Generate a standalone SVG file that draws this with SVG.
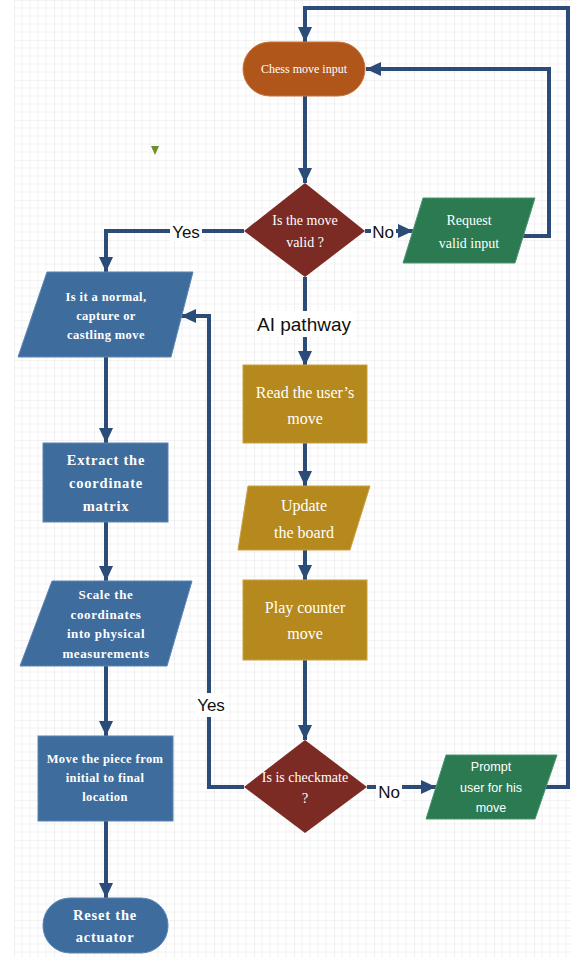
<svg xmlns="http://www.w3.org/2000/svg" width="571" height="957" viewBox="0 0 571 957">
<defs>
<pattern id="grid" width="40" height="40" patternUnits="userSpaceOnUse" x="14" y="0">
<path d="M8 0V40M16 0V40M24 0V40M32 0V40M0 8H40M0 16H40M0 24H40M0 32H40" stroke="#f1f1f1" stroke-width="1" fill="none"/>
<path d="M0 0V40M0 0H40" stroke="#e6e6e6" stroke-width="1.2" fill="none"/>
</pattern>
<marker id="arr" markerUnits="userSpaceOnUse" markerWidth="16" markerHeight="14" refX="15" refY="7" orient="auto">
<path d="M0,0 L15,7 L0,14 z" fill="#2b4c78"/>
</marker>
<style>
.c{fill:none;stroke:#2b4c78;stroke-width:4;stroke-linejoin:miter}
.ca{fill:none;stroke:#2b4c78;stroke-width:4;marker-end:url(#arr)}
.ser{font-family:"Liberation Serif","Times New Roman",serif;fill:#ffffff;text-anchor:middle;dominant-baseline:central}
.serb{font-family:"Liberation Serif","Times New Roman",serif;fill:#ffffff;text-anchor:middle;dominant-baseline:central;font-weight:bold}
.sans{font-family:"Liberation Sans",Arial,sans-serif;text-anchor:middle;dominant-baseline:central}
.lbl{font-family:"Liberation Sans",Arial,sans-serif;text-anchor:middle;dominant-baseline:central;fill:#111111}
.blue{fill:#3e6c9c;stroke:#5a86b3;stroke-width:1}
.gold{fill:#b5891e;stroke:#c9a040;stroke-width:1}
.green{fill:#2b7a51;stroke:#4a9570;stroke-width:1}
.red{fill:#7b2b23}
</style>
</defs>
<rect x="0" y="0" width="571" height="957" fill="#ffffff"/>
<rect x="14" y="0" width="557" height="957" fill="url(#grid)"/>
<path d="M151,146 L159,146 L155,155 z" fill="#6f8f2a"/>

<g id="connectors">
<polyline class="ca" points="544,787 568,787 568,8 305,8 305,42"/>
<polyline class="ca" points="523,236 549,236 549,69 366,69"/>
<line class="ca" x1="305" y1="96" x2="305" y2="183"/>
<polyline class="ca" points="244,231 106,231 106,272"/>
<line class="ca" x1="365" y1="231" x2="413" y2="231"/>
<line class="ca" x1="305" y1="277" x2="305" y2="366"/>
<line class="ca" x1="305" y1="443" x2="305" y2="486"/>
<line class="ca" x1="305" y1="550" x2="305" y2="580"/>
<line class="ca" x1="305" y1="660" x2="305" y2="740"/>
<polyline class="ca" points="244,787 209,787 209,316 181,316"/>
<line class="ca" x1="367" y1="787" x2="436" y2="787"/>
<line class="ca" x1="106" y1="357" x2="106" y2="443"/>
<line class="ca" x1="106" y1="522" x2="106" y2="581"/>
<line class="ca" x1="106" y1="666" x2="106" y2="736"/>
<line class="ca" x1="106" y1="821" x2="106" y2="898"/>
<rect x="170" y="221" width="32" height="20" fill="#ffffff"/>
<text class="lbl" x="186" y="232" font-size="17">Yes</text>
<rect x="371" y="221" width="25" height="20" fill="#ffffff"/>
<text class="lbl" x="383" y="232" font-size="17">No</text>
<rect x="255" y="311" width="100" height="26" fill="#ffffff"/>
<text class="lbl" x="304" y="324" font-size="19">AI pathway</text>
<rect x="195" y="693" width="31" height="24" fill="#ffffff"/>
<text class="lbl" x="211" y="705" font-size="17">Yes</text>
<rect x="376" y="780" width="26" height="24" fill="#ffffff"/>
<text class="lbl" x="389" y="792" font-size="17">No</text>
</g>

<g id="chess-move-input">
<rect x="243" y="42" width="122" height="54" rx="27" ry="27" fill="#b0561b" stroke="#c8733a" stroke-width="1"/>
<text class="ser" x="304" y="69" font-size="12">Chess move input</text>
</g>

<g id="is-move-valid">
<polygon class="red" points="305,183 365,231 305,277 244,231"/>
<text class="ser" x="305" y="220" font-size="14">Is the move</text>
<text class="ser" x="305" y="242" font-size="14">valid ?</text>
</g>

<g id="request-valid-input">
<polygon class="green" points="423,198 535,198 515,263 403,263"/>
<text class="ser" x="469" y="220" font-size="14">Request</text>
<text class="ser" x="469" y="243" font-size="14">valid input</text>
</g>

<g id="move-type">
<polygon class="blue" points="47,272 193,272 171,357 18,357"/>
<text class="serb" x="106" y="297" font-size="12.5" letter-spacing="0.4">Is it a normal,</text>
<text class="serb" x="106" y="316" font-size="12.5" letter-spacing="0.4">capture or</text>
<text class="serb" x="106" y="335" font-size="12.5" letter-spacing="0.4">castling move</text>
</g>

<g id="read-user-move">
<rect class="gold" x="243" y="365" width="124" height="78"/>
<text class="ser" x="305" y="392" font-size="16">Read the user’s</text>
<text class="ser" x="305" y="418" font-size="16">move</text>
</g>

<g id="update-board">
<polygon class="gold" points="248,486 370,486 350,550 238,550"/>
<text class="ser" x="304" y="505" font-size="16">Update</text>
<text class="ser" x="304" y="532" font-size="16">the board</text>
</g>

<g id="play-counter-move">
<rect class="gold" x="243" y="580" width="124" height="80"/>
<text class="ser" x="305" y="607" font-size="16">Play counter</text>
<text class="ser" x="305" y="633" font-size="16">move</text>
</g>

<g id="is-checkmate">
<polygon class="red" points="305,740 367,787 305,833 244,787"/>
<text class="ser" x="305" y="777" font-size="14">Is is checkmate</text>
<text class="ser" x="305" y="798" font-size="14">?</text>
</g>

<g id="prompt-user">
<polygon class="green" points="446,755 557,755 535,819 426,819"/>
<text class="sans" x="491" y="767" font-size="12.5" fill="#ffffff">Prompt</text>
<text class="sans" x="491" y="788" font-size="12.5" fill="#ffffff">user for his</text>
<text class="sans" x="491" y="808" font-size="12.5" fill="#ffffff">move</text>
</g>

<g id="extract-coordinates">
<rect class="blue" x="43" y="443" width="125" height="79"/>
<text class="serb" x="106" y="460" font-size="14.5" letter-spacing="0.8">Extract the</text>
<text class="serb" x="106" y="483" font-size="14.5" letter-spacing="0.8">coordinate</text>
<text class="serb" x="106" y="506" font-size="14.5" letter-spacing="0.8">matrix</text>
</g>

<g id="scale-coordinates">
<polygon class="blue" points="52,581 192,581 167,666 20,666"/>
<text class="serb" x="106" y="594" font-size="13" letter-spacing="0.6">Scale the</text>
<text class="serb" x="106" y="614" font-size="13" letter-spacing="0.6">coordinates</text>
<text class="serb" x="106" y="633" font-size="13" letter-spacing="0.6">into physical</text>
<text class="serb" x="106" y="653" font-size="13" letter-spacing="0.6">measurements</text>
</g>

<g id="move-piece">
<rect class="blue" x="38" y="736" width="135" height="85"/>
<text class="serb" x="105" y="759" font-size="12.5" letter-spacing="0.4">Move the piece from</text>
<text class="serb" x="105" y="778" font-size="12.5" letter-spacing="0.4">initial to final</text>
<text class="serb" x="105" y="797" font-size="12.5" letter-spacing="0.4">location</text>
</g>

<g id="reset-actuator">
<rect class="blue" x="43" y="898" width="125" height="55" rx="27" ry="27"/>
<text class="serb" x="105" y="915" font-size="14.5" letter-spacing="0.8">Reset the</text>
<text class="serb" x="105" y="937" font-size="14.5" letter-spacing="0.8">actuator</text>
</g>
</svg>
